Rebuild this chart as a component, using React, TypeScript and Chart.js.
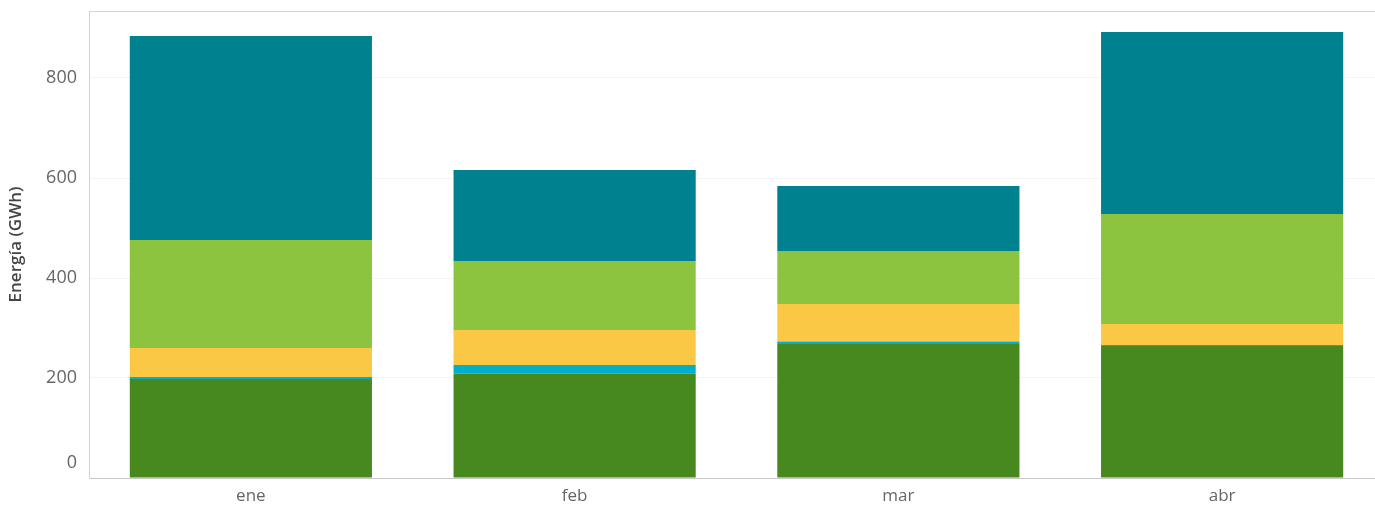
import React, { useEffect, useRef } from "react";
import { Chart, registerables } from "chart.js";

Chart.register(...registerables);

const months = ["ene", "feb", "mar", "abr"];
const serieVerdeOscuro = [198, 209, 268, 264];
const serieCian = [4, 17, 5, 2];
const serieAmarillo = [58, 70, 75, 42];
const serieVerdeClaro = [216, 138, 106, 220];
const serieTeal = [408, 182, 130, 364];
const yTicks = [0, 200, 400, 600, 800];
const yMax = 934;
const yTitle = "Energía (GWh)";

const FONT = "'Open Sans', 'Noto Sans', sans-serif";

export default function App() {
  const ref = useRef<HTMLCanvasElement | null>(null);

  useEffect(() => {
    if (!ref.current) return;
    const decor = {
      id: "decor",
      afterDraw(chart: any) {
        const { ctx, chartArea } = chart;
        const y = chart.scales.y;
        ctx.save();
        ctx.strokeStyle = "#d4d4d4";
        ctx.lineWidth = 1;
        ctx.beginPath();
        ctx.moveTo(chartArea.left, chartArea.top + 0.5);
        ctx.lineTo(chartArea.right, chartArea.top + 0.5);
        ctx.stroke();
        ctx.fillStyle = "#666";
        ctx.font = "18px " + FONT;
        ctx.textAlign = "right";
        ctx.textBaseline = "middle";
        yTicks.forEach((v) => {
          const py = y.getPixelForValue(v) - (v === 0 ? 15 : 0);
          ctx.fillText(String(v), chartArea.left - 12, py);
        });
        ctx.restore();
      },
    };
    const chart = new Chart(ref.current, {
      type: "bar",
      data: {
        labels: months,
        datasets: [
          { label: "s1", data: serieVerdeOscuro, backgroundColor: "#47891e" },
          { label: "s2", data: serieCian, backgroundColor: "#00afcb" },
          { label: "s3", data: serieAmarillo, backgroundColor: "#fbc845" },
          { label: "s4", data: serieVerdeClaro, backgroundColor: "#8cc43f" },
          { label: "s5", data: serieTeal, backgroundColor: "#008190" },
        ],
      },
      options: {
        animation: false,
        responsive: false,
        maintainAspectRatio: false,
        layout: { padding: { top: 11, left: 0, right: 0, bottom: 0 } },
        plugins: { legend: { display: false }, tooltip: { enabled: false } },
        datasets: { bar: { barPercentage: 0.748, categoryPercentage: 1 } },
        scales: {
          x: {
            stacked: true,
            grid: { display: false, drawTicks: false },
            border: { color: "#c8c8c8", width: 1 },
            ticks: { color: "#666", font: { family: FONT, size: 17 }, padding: 8 },
            afterFit(scale: any) {
              scale.height = 27;
            },
          },
          y: {
            stacked: true,
            min: 0,
            max: yMax,
            afterBuildTicks(scale: any) {
              scale.ticks = yTicks.map((v) => ({ value: v }));
            },
            grid: { color: "#f3f3f3", drawTicks: false },
            border: { color: "#d4d4d4", width: 1 },
            ticks: { display: false },
            title: {
              display: true,
              text: yTitle,
              color: "#444",
              font: { family: FONT, size: 17, weight: "600" },
              padding: { top: 6, bottom: 0 },
            },
            afterFit(scale: any) {
              scale.width = 89;
            },
          },
        },
      },
      plugins: [decor],
    });
    return () => chart.destroy();
  }, []);

  return (
    <div
      style={{
        position: "absolute",
        left: 0,
        top: 0,
        width: 1375,
        height: 505,
        overflow: "hidden",
        background: "#fff",
      }}
    >
      <canvas ref={ref} width={1384} height={505} style={{ width: 1384, height: 505 }} />
    </div>
  );
}
